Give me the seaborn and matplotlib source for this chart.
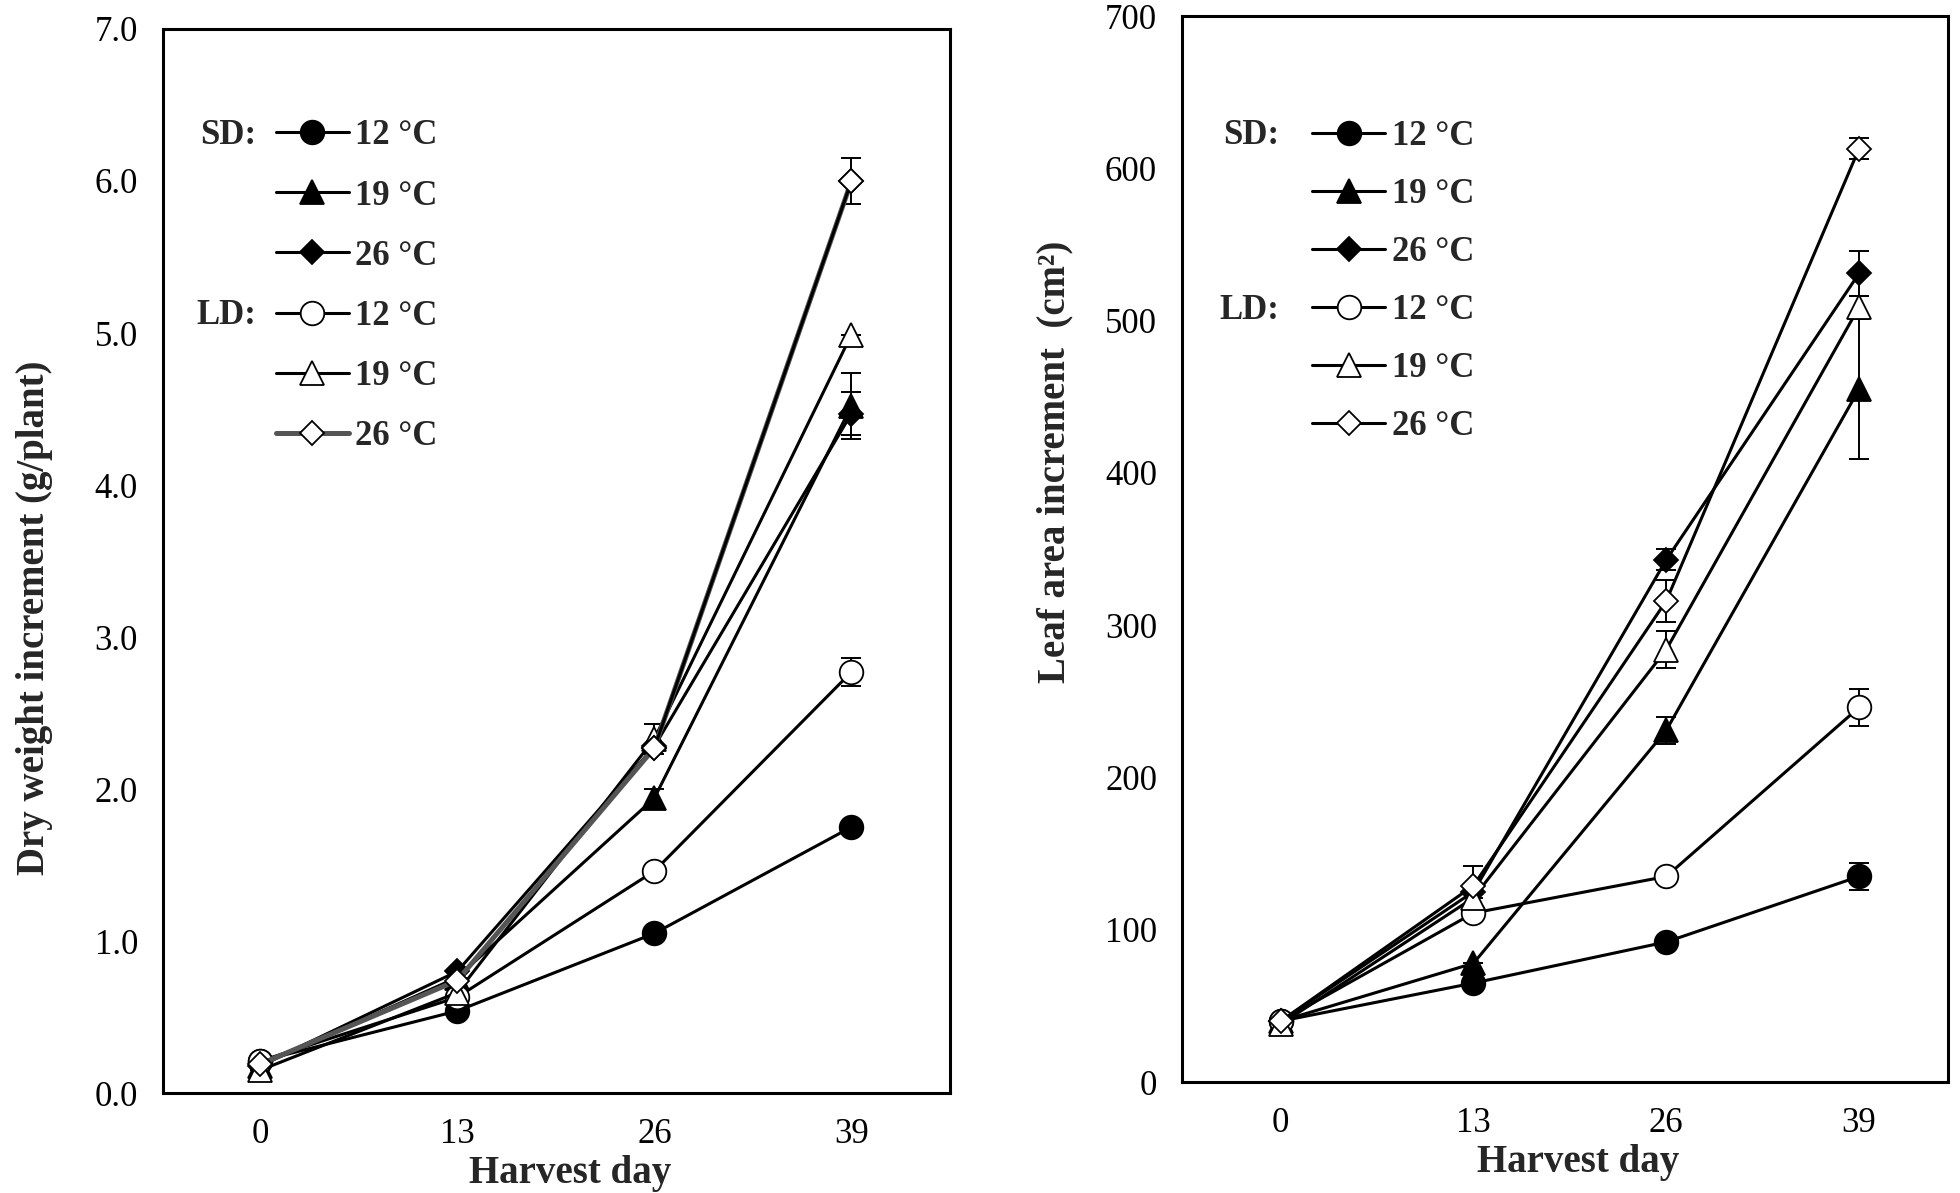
import matplotlib
matplotlib.use("Agg")
import matplotlib.pyplot as plt
import seaborn as sns
import pandas as pd

# 수확일
days = [0, 13, 26, 39]

# 건물중 증가량 (g/plant)
dw_sd12 = [0.21, 0.54, 1.05, 1.75]
dw_sd19 = [0.18, 0.76, 1.94, 4.52]
dw_sd26 = [0.18, 0.80, 2.28, 4.47]
dw_ld12 = [0.21, 0.63, 1.46, 2.77]
dw_ld19 = [0.15, 0.66, 2.33, 4.99]
dw_ld26 = [0.19, 0.74, 2.27, 6.00]
dw_err_sd12 = [0, 0, 0, 0.03]
dw_err_sd19 = [0, 0, 0.06, 0.22]
dw_err_sd26 = [0, 0, 0, 0.14]
dw_err_ld12 = [0, 0, 0, 0.09]
dw_err_ld19 = [0, 0, 0.10, 0]
dw_err_ld26 = [0, 0, 0, 0.15]

# 엽면적 증가량 (cm2)
la_sd12 = [40, 65, 92, 135]
la_sd19 = [40, 78, 231, 455]
la_sd26 = [40, 125, 343, 531]
la_ld12 = [40, 111, 135, 246]
la_ld19 = [38, 121, 284, 509]
la_ld26 = [40, 129, 316, 613]
la_err_sd12 = [0, 0, 0, 9]
la_err_sd19 = [0, 0, 9, 46]
la_err_sd26 = [0, 0, 7, 15]
la_err_ld12 = [0, 0, 0, 12]
la_err_ld19 = [0, 0, 12, 7]
la_err_ld26 = [0, 13, 14, 7]

temp_labels = ["12 °C", "19 °C", "26 °C", "12 °C", "19 °C", "26 °C"]

sns.set_style("white")
plt.rcParams['font.family'] = ['Liberation Serif', 'DejaVu Serif']

# 마커 스타일 (SD = 채움, LD = 비움)
styles = [
    dict(marker='o', ms=17, mfc='black'),
    dict(marker='^', ms=17, mfc='black'),
    dict(marker='D', ms=12, mfc='black'),
    dict(marker='o', ms=17, mfc='white'),
    dict(marker='^', ms=17, mfc='white'),
    dict(marker='D', ms=12, mfc='white'),
]


def draw_panel(ax, series, errors, line_colors, line_widths):
    handles = []
    for i, (vals, err) in enumerate(zip(series, errors)):
        df = pd.DataFrame({'day': days, 'val': vals})
        ax.errorbar(days, vals, yerr=err, fmt='none', ecolor='black',
                    elinewidth=1.4, capsize=7, capthick=1.4, zorder=2)
        sns.lineplot(data=df, x='day', y='val', ax=ax, color=line_colors[i],
                     lw=line_widths[i], marker=styles[i]['marker'],
                     markersize=styles[i]['ms'],
                     markerfacecolor=styles[i]['mfc'],
                     markeredgecolor='black', markeredgewidth=1.3,
                     zorder=3 + i * 0.1, label=temp_labels[i])
        handles.append(ax.get_lines()[-1])
    return handles


fig = plt.figure(figsize=(19.6, 11.93), dpi=100)
ax1 = fig.add_axes([0.0832, 0.0838, 0.4015, 0.8919])
ax2 = fig.add_axes([0.6031, 0.0930, 0.3908, 0.8935])

h1 = draw_panel(ax1,
                [dw_sd12, dw_sd19, dw_sd26, dw_ld12, dw_ld19, dw_ld26],
                [dw_err_sd12, dw_err_sd19, dw_err_sd26, dw_err_ld12, dw_err_ld19, dw_err_ld26],
                ['black'] * 5 + ['#555555'], [2.2] * 5 + [3.6])
# 마지막 구간(26→39일)은 원본처럼 검은 실선
sns.lineplot(x=days[2:], y=dw_ld26[2:], ax=ax1, color='black', lw=2.2,
             marker='D', markersize=12, markerfacecolor='white',
             markeredgecolor='black', markeredgewidth=1.3, zorder=3.6)

h2 = draw_panel(ax2,
                [la_sd12, la_sd19, la_sd26, la_ld12, la_ld19, la_ld26],
                [la_err_sd12, la_err_sd19, la_err_sd26, la_err_ld12, la_err_ld19, la_err_ld26],
                ['black'] * 6, [2.2] * 6)

ax1.set_xlim(-6.4, 45.5)
ax1.set_ylim(0, 7)
ax1.set_yticks([0, 1, 2, 3, 4, 5, 6, 7])
ax1.set_yticklabels([f"{v:.1f}" for v in range(8)])
ax1.set_ylabel("Dry weight increment (g/plant)", fontsize=28, fontweight='bold')

ax2.set_xlim(-6.65, 45.0)
ax2.set_ylim(0, 700)
ax2.set_yticks(range(0, 701, 100))
ax2.set_ylabel("Leaf area increment  (cm²)", fontsize=28, fontweight='bold')

for ax in (ax1, ax2):
    ax.set_xticks(days)
    ax.set_xlabel("Harvest day", fontsize=28, fontweight='bold', labelpad=0)
    ax.tick_params(direction='in', length=7, width=1.3, labelsize=25, pad=18,
                   colors='black')
    for sp in ax.spines.values():
        sp.set_linewidth(2.2)
        sp.set_color('black')

ax1.yaxis.set_label_coords(-0.14, 0.447)
ax2.yaxis.set_label_coords(-0.142, 0.582)
ax1.xaxis.set_label_coords(0.517, -0.058)
ax2.xaxis.set_label_coords(0.517, -0.058)

# 범례
leg_kw = dict(frameon=False, handlelength=2.1, handletextpad=0.2,
              borderpad=0, borderaxespad=0,
              loc='upper left', prop={'size': 25, 'weight': 'bold'})
ax1.legend(h1, temp_labels, bbox_to_anchor=(0.143, 0.915), labelspacing=0.78, **leg_kw)
ax2.legend(h2, temp_labels, bbox_to_anchor=(0.17, 0.9025), labelspacing=0.72, **leg_kw)

ax1.text(0.119, 0.900, "SD:", transform=ax1.transAxes, ha='right', va='center',
         fontsize=25, fontweight='bold')
ax1.text(0.119, 0.731, "LD:", transform=ax1.transAxes, ha='right', va='center',
         fontsize=25, fontweight='bold')
ax2.text(0.127, 0.888, "SD:", transform=ax2.transAxes, ha='right', va='center',
         fontsize=25, fontweight='bold')
ax2.text(0.127, 0.724, "LD:", transform=ax2.transAxes, ha='right', va='center',
         fontsize=25, fontweight='bold')

fig.savefig("out.png", dpi=100)
